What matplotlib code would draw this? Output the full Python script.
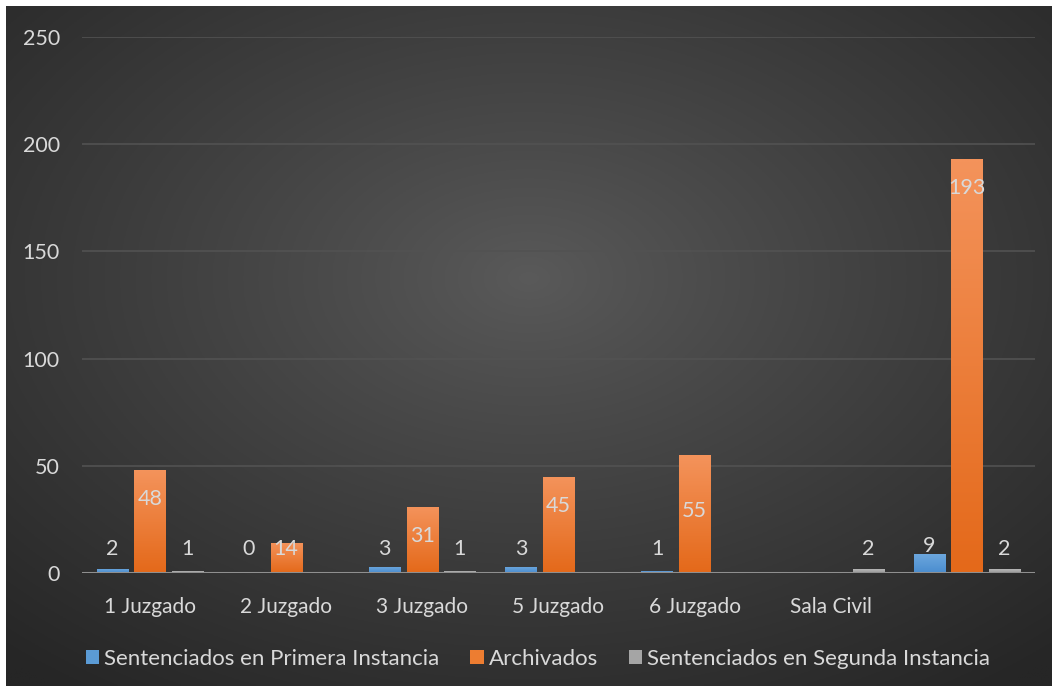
import numpy as np
import matplotlib
matplotlib.use("Agg")
import matplotlib.pyplot as plt
from matplotlib.colors import to_rgb

categories = ["1 Juzgado", "2 Juzgado", "3 Juzgado", "5 Juzgado", "6 Juzgado", "Sala Civil", ""]
primera = [2, 0, 3, 3, 1, None, 9]
archivados = [48, 14, 31, 45, 55, None, 193]
segunda = [1, None, 1, None, None, 2, 2]
series_names = ["Sentenciados en Primera Instancia", "Archivados", "Sentenciados en Segunda Instancia"]
yticks = [0, 50, 100, 150, 200, 250]

colors = ["#5b9bd5", "#ed7d31", "#a5a5a5"]
grad_top = ["#6ea8de", "#f4935b", "#bdbdbd"]
grad_bot = ["#4a8dcf", "#e4691a", "#9a9a9a"]
txt_color = "#d9d9d9"
font = ["Lato", "DejaVu Sans"]

W, H = 1058, 692
fig = plt.figure(figsize=(W / 100, H / 100), dpi=100, facecolor="white")

# background with radial gradient
bx0, by0, bx1, by1 = 6, 6, 1052, 686
bg = fig.add_axes([bx0 / W, 1 - by1 / H, (bx1 - bx0) / W, (by1 - by0) / H])
bg.set_axis_off()
gx = np.linspace(0, 1, 400)
gy = np.linspace(0, 1, 300)
X, Y = np.meshgrid(gx, gy)
cx, cy = 0.5, 0.6
r = np.sqrt(((X - cx) / 0.75) ** 2 + ((Y - cy) / 0.75) ** 2)
r = np.clip(r, 0, 1)
inner, outer = 0x5a / 255, 0x26 / 255
val = inner + (outer - inner) * r ** 0.9
img = np.dstack([val, val, val])
bg.imshow(img, extent=[0, 1, 0, 1], aspect="auto", origin="lower")
bg.set_xlim(0, 1)
bg.set_ylim(0, 1)

# main plot area
px0, px1 = 82, 1035
py_top, py_bot = 37, 573
ax = fig.add_axes([px0 / W, 1 - py_bot / H, (px1 - px0) / W, (py_bot - py_top) / H])
ax.patch.set_alpha(0)
ax.set_ylim(0, 250)
n = len(categories)
ax.set_xlim(-0.5, n - 0.5)
for s in ax.spines.values():
    s.set_visible(False)
ax.set_yticks(yticks)
ax.yaxis.grid(True, color="#525252", linewidth=1.2)
ax.set_axisbelow(True)
ax.tick_params(axis="y", length=0, pad=16, labelcolor=txt_color, labelsize=15.5)
ax.tick_params(axis="x", length=0, pad=17, labelcolor=txt_color, labelsize=15)
ax.set_xticks(range(n))
ax.set_xticklabels(categories)
for lab in ax.get_xticklabels() + ax.get_yticklabels():
    lab.set_family(font)

bw = 0.23
offs = [-0.276, 0.0, 0.276]
data = [primera, archivados, segunda]
x = np.arange(n)
for si, (vals, col) in enumerate(zip(data, colors)):
    xs = [xi + offs[si] for xi, v in zip(x, vals) if v is not None]
    hs = [v for v in vals if v is not None]
    bars = ax.bar(xs, hs, width=bw, color=col, zorder=3, label=series_names[si])
    t = np.array(to_rgb(grad_top[si]))
    b = np.array(to_rgb(grad_bot[si]))
    for bar in bars:
        h = bar.get_height()
        if h <= 0:
            continue
        f = np.linspace(0, 1, 64)[:, None]
        grad = (b[None, :] * (1 - f) + t[None, :] * f)[:, None, :]
        x0 = bar.get_x()
        im = ax.imshow(grad, extent=[x0, x0 + bar.get_width(), 0, h], origin="lower",
                       aspect="auto", zorder=3.1, interpolation="bilinear")
        im.set_clip_path(bar)

ax.set_xlim(-0.5, n - 0.5)
ax.set_ylim(0, 250)
ax.axhline(0, color="#8f8f8f", linewidth=2.2, zorder=4)

# data labels
px_per_unit = (py_bot - py_top) / 250.0
for si, vals in enumerate(data):
    for xi, v in zip(x, vals):
        if v is None:
            continue
        if si == 1:
            drop = 56 if v == 55 else 29
            yc = max(v - drop / px_per_unit, 11.2)
        else:
            yc = max(v + 3.6, 11.2)
        ax.text(xi + offs[si], yc, str(v), ha="center", va="center",
                color=txt_color, fontsize=15.5, family=font, zorder=5)

leg = fig.legend(loc="center", bbox_to_anchor=(538 / W, 1 - 659 / H), ncol=3,
                 frameon=False, handlelength=0.6, handleheight=0.6,
                 handletextpad=0.22, columnspacing=1.4, prop={"family": font, "size": 16})
for t in leg.get_texts():
    t.set_color(txt_color)

fig.savefig("out.png", dpi=100, facecolor="white")
